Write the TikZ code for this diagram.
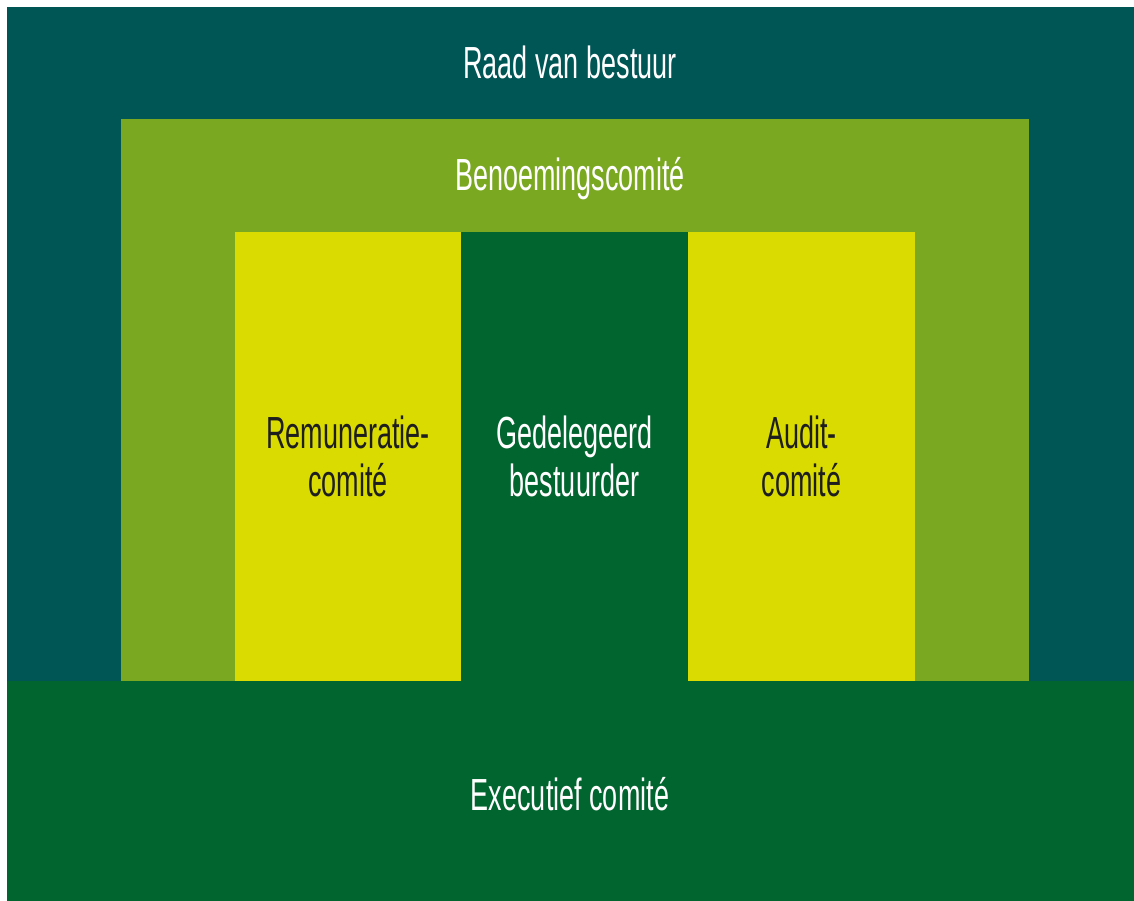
\documentclass[tikz,border=0pt]{standalone}
\usepackage{fontspec}
\setmainfont[FakeStretch=0.6]{Liberation Sans}
\definecolor{teal}{RGB}{0,85,85}
\definecolor{olive}{RGB}{123,168,33}
\definecolor{lemon}{RGB}{218,219,0}
\definecolor{forest}{RGB}{0,101,46}
\definecolor{ink}{RGB}{30,30,30}
\tikzset{
  lbl/.style={anchor=base, inner sep=0pt, font=\fontsize{45}{52}\selectfont},
  light/.style={lbl, text=white},
  dark/.style={lbl, text=ink},
}
\begin{document}
\begin{tikzpicture}[x=1pt,y=-1pt]
\useasboundingbox (0,0) rectangle (1134,901);
\fill[white] (0,0) rectangle (1134,901);
% boxes
\fill[teal] (7,7) rectangle (1134,681);
\fill[olive] (121,119) rectangle (1029,681);
\fill[lemon] (235,232) rectangle (461,681);
\fill[forest] (461,232) rectangle (688,681);
\fill[lemon] (688,232) rectangle (915,681);
\fill[forest] (7,681) rectangle (1134,901);
% labels
\node[light] (raad) at (570,79) {Raad van bestuur};
\node[light] (benoem) at (570,191) {Benoemingscomité};
\node[dark] (rem1) at (348,448) {Remuneratie-};
\node[dark] (rem2) at (348,496) {comité};
\node[light] (ged1) at (574.5,448) {Gedelegeerd};
\node[light] (ged2) at (574.5,496) {bestuurder};
\node[dark] (aud1) at (801.5,448) {Audit-};
\node[dark] (aud2) at (801.5,496) {comité};
\node[light] (exec) at (570,810) {Executief comité};
\end{tikzpicture}
\end{document}
